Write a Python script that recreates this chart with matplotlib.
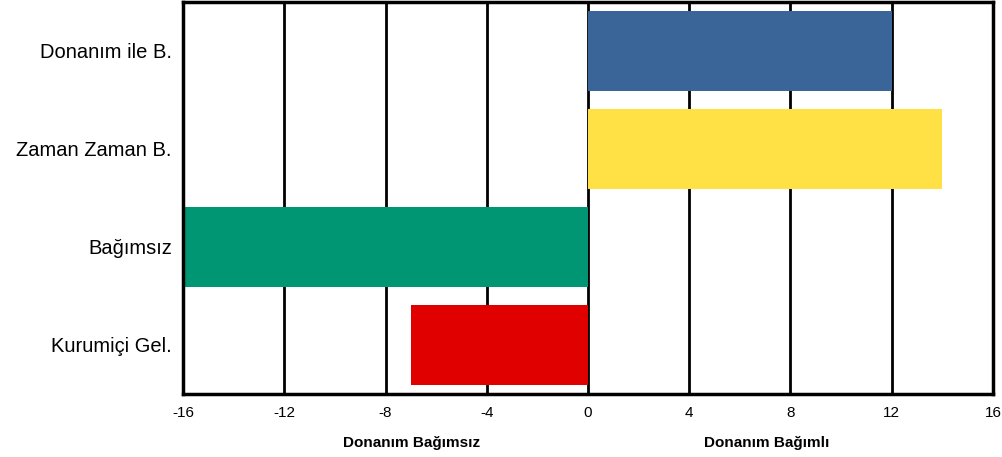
import numpy as np
import matplotlib.pyplot as plt

plt.rcParams['font.family'] = ['Liberation Sans', 'DejaVu Sans']

categories = ["Donanım ile B.", "Zaman Zaman B.", "Bağımsız", "Kurumiçi Gel."]
values = [12, 14, -16, -7]
colors = ["#3A6598", "#FFE045", "#009673", "#E00000"]
xticks = [-16, -12, -8, -4, 0, 4, 8, 12, 16]

fig = plt.figure(figsize=(10.03, 4.57), dpi=100)
ax = fig.add_axes([0.1825, 0.138, 0.8075, 0.858])

y = np.arange(len(categories))
ax.barh(y, values, height=0.82, color=colors, zorder=3)

ax.set_xlim(-16, 16)
ax.set_ylim(3.5, -0.5)
ax.set_xticks(xticks)
ax.set_xticklabels([str(t) for t in xticks], fontsize=11)
ax.set_yticks(y)
ax.set_yticklabels(categories, fontsize=14.5)
ax.tick_params(axis='x', length=0, pad=9)
ax.tick_params(axis='y', length=0, pad=8)

ax.grid(axis='x', color='black', linewidth=2, zorder=1)
ax.set_axisbelow(True)
for s in ax.spines.values():
    s.set_linewidth(2.5)
    s.set_zorder(4)

fig.text(412 / 1003, 1 - 447 / 457, "Donanım Bağımsız", ha='center', va='baseline',
         fontsize=11, fontweight='bold')
fig.text(767 / 1003, 1 - 447 / 457, "Donanım Bağımlı", ha='center', va='baseline',
         fontsize=11, fontweight='bold')

fig.savefig("out.png", dpi=100)
